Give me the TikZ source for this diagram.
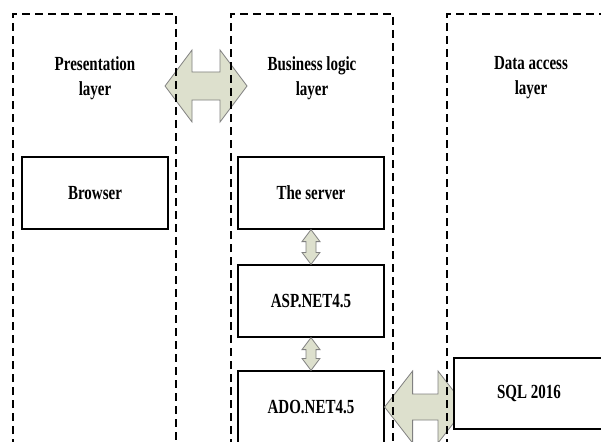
\documentclass[tikz,border=0pt]{standalone}
\usepackage{fontspec}
\setmainfont{Liberation Serif}
\usetikzlibrary{calc}
\definecolor{arrfill}{RGB}{221,224,205}
\definecolor{arrline}{RGB}{128,128,128}
\newcommand\cz[1]{\scalebox{0.75}[1]{#1}}
\tikzset{
  layerbox/.style={draw=black, line width=1.3pt, dash pattern=on 8pt off 5pt},
  compbox/.style={draw=black, fill=white, line width=1.2pt, minimum width=146pt, inner sep=0pt,
                  font=\fontsize{20}{25}\selectfont\bfseries},
  title/.style={align=center, inner sep=0pt, font=\fontsize{20}{25}\selectfont\bfseries},
  blockarrow/.style={fill=arrfill, draw=arrline, line width=0.8pt, line join=miter}
}
% horizontal double block arrow: left tip #1, right tip #2, head length #3, head half #4, shaft half #5
\newcommand\hdarr[5]{%
  \filldraw[blockarrow] let \p1=(#1), \p2=(#2) in
   (\p1) -- ({\x1+#3},{\y1+#4}) -- ({\x1+#3},{\y1+#5}) -- ({\x2-#3},{\y1+#5}) -- ({\x2-#3},{\y1+#4})
   -- ({\x2},{\y1}) -- ({\x2-#3},{\y1-#4}) -- ({\x2-#3},{\y1-#5}) -- ({\x1+#3},{\y1-#5})
   -- ({\x1+#3},{\y1-#4}) -- cycle;}
% vertical double block arrow: top tip #1, bottom tip #2
\newcommand\vdarr[2]{%
  \filldraw[blockarrow] let \p1=(#1), \p2=(#2) in
   (\p1) -- ({\x1+9pt},{\y1-12pt}) -- ({\x1+5pt},{\y1-12pt}) -- ({\x1+5pt},{\y2+12pt}) -- ({\x1+9pt},{\y2+12pt})
   -- ({\x1},{\y2}) -- ({\x1-9pt},{\y2+12pt}) -- ({\x1-5pt},{\y2+12pt}) -- ({\x1-5pt},{\y1-12pt})
   -- ({\x1-9pt},{\y1-12pt}) -- cycle;}
\begin{document}
\begin{tikzpicture}[x=1pt,y=-1pt]
\clip (0,0) rectangle (601,441);
\fill[white] (0,0) rectangle (601,441);

% titles
\node[title] (pres) at (95,78) {\cz{Presentation}\\\cz{layer}};
\node[title] (biz)  at (312,78) {\cz{Business logic}\\\cz{layer}};
\node[title] (data) at (531,78) {\cz{Data access}\\\cz{layer}};

% top block arrow between presentation and business layers
\coordinate (tl) at (165,86);
\coordinate (tr) at (247,86);
\hdarr{tl}{tr}{27pt}{36pt}{14pt}

% component boxes
\node[compbox, minimum height=72pt] (browser) at (95,193) {\cz{Browser}};
\node[compbox, minimum height=72pt] (server)  at (311,193) {\cz{The server}};
\node[compbox, minimum height=72pt] (asp)     at (311,301) {\cz{ASP.NET4.5}};
\node[compbox, minimum height=72pt] (ado)     at (311,407) {\cz{ADO.NET4.5}};

\vdarr{server.south}{asp.north}
\vdarr{asp.south}{ado.north}

% bottom block arrow between ADO and SQL
\coordinate (sqltip) at (466,407);
\hdarr{ado.east}{sqltip}{28pt}{36pt}{13pt}

\node[compbox, minimum height=71pt, minimum width=150pt] (sql) at (529,393.5) {\cz{SQL 2016}};

% dashed layer frames
\draw[layerbox] (13,460) -- (13,14) -- (176,14) -- (176,460);
\draw[layerbox] (231,460) -- (231,14) -- (393,14) -- (393,460);
\draw[layerbox] (447,460) -- (447,14) -- (620,14);
\end{tikzpicture}
\end{document}
